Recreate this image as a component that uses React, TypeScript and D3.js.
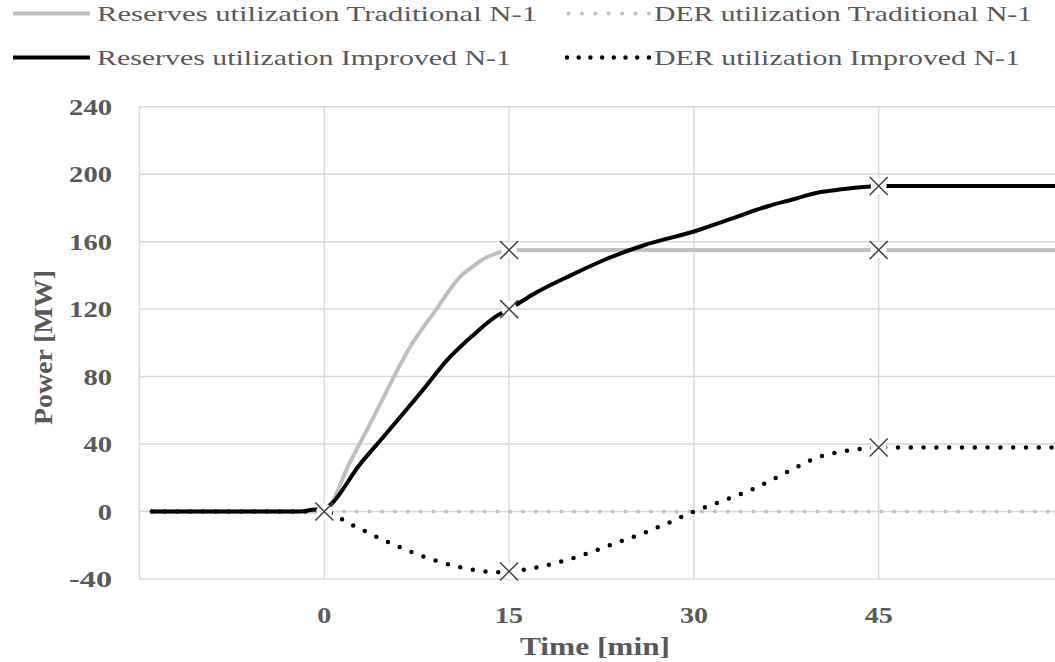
import React from 'react';
import * as d3 from 'd3';

// values (time in minutes, power in MW)
const reservesTradTime = [-14, -1, 0, 2, 4, 7, 9, 11, 12, 13, 14, 15, 30, 45, 60];
const reservesTradValue = [0, 0, 0, 28, 56, 98, 119, 139, 145, 150, 153, 155, 155, 155, 155];

const reservesImpTime = [-14, -2, -1, 0, 3, 5, 8, 10, 12, 14, 15, 17, 20, 23, 26, 30, 33, 36, 38, 40, 42, 44, 45, 60];
const reservesImpValue = [0, 0, 1, 2, 29, 46, 72, 90, 104, 116, 120, 129, 140, 150, 158, 166, 173.5, 181, 185, 189, 191, 192.5, 193, 193];

const derTradTime = [-14, 0, 15, 30, 45, 60];
const derTradValue = [0, 0, 0, 0, 0, 0];

const derImpTime = [-14, 0, 2, 5, 8, 11, 13, 14, 15, 17, 20, 23, 26, 28, 30, 32, 35, 38, 40, 42, 44, 45, 60];
const derImpValue = [0, 0, -7, -17.5, -26.5, -33, -35.5, -36, -35.5, -33.5, -28, -20.5, -12.5, -6.5, 0, 5.5, 14, 25, 32, 35.5, 37.5, 38, 38];

const xTicks = [0, 15, 30, 45];
const yTicks = [-40, 0, 40, 80, 120, 160, 200, 240];

const FONT = "'Liberation Serif', Tinos, 'Times New Roman', Times, serif";
const LABEL = '#595959';
const GRID = '#d9d9d9';

const x = d3.scaleLinear().domain([-15, 60]).range([139.5, 1063.5]);
const y = d3.scaleLinear().domain([-40, 240]).range([579, 106.7]);

const zip = (t: number[], v: number[]) => t.map((d, i) => [d, v[i]] as [number, number]);

const line = d3.line<[number, number]>()
  .x(d => x(d[0]))
  .y(d => y(d[1]))
  .curve(d3.curveMonotoneX);

const series = [
  { name: 'derTrad', pts: zip(derTradTime, derTradValue), stroke: '#c0c0c0', width: 4, dash: '0 12.8', marks: [] as number[] },
  { name: 'resTrad', pts: zip(reservesTradTime, reservesTradValue), stroke: '#bfbfbf', width: 4, dash: null, marks: [15, 45] },
  { name: 'resImp', pts: zip(reservesImpTime, reservesImpValue), stroke: '#000', width: 4, dash: null, marks: [15, 45] },
  { name: 'derImp', pts: zip(derImpTime, derImpValue), stroke: '#000', width: 4.5, dash: '0 12.8', marks: [0, 15, 45] },
];

const T = ({ x, y, len, size, bold, anchor, children, rotate }: any) => (
  <text
    x={x}
    y={y}
    style={{ fontFamily: FONT }}
    fontSize={size}
    fontWeight={bold ? 'bold' : 'normal'}
    fill={LABEL}
    textAnchor={anchor || 'start'}
    textLength={len}
    lengthAdjust="spacingAndGlyphs"
    transform={rotate ? `rotate(-90 ${x} ${y})` : undefined}
  >
    {children}
  </text>
);

const Cross = ({ cx, cy }: { cx: number; cy: number }) => (
  <g>
    <circle cx={cx} cy={cy} r={8} fill="#fff" />
    <path d={`M${cx - 9},${cy - 9}L${cx + 9},${cy + 9}M${cx - 9},${cy + 9}L${cx + 9},${cy - 9}`} stroke="#404040" strokeWidth={1.5} />
  </g>
);

export default function App() {
  const [x0, x1] = x.range();
  const [y0, y1] = y.range();
  return (
    <svg width={1055} height={662} style={{ position: 'absolute', left: 0, top: 0, background: '#fff' }}>
      {/* legend */}
      <line x1={13} x2={90} y1={13.5} y2={13.5} stroke="#bfbfbf" strokeWidth={4} />
      <T x={97} y={21} len={440} size={21}>Reserves utilization Traditional N-1</T>
      <line x1={13} x2={90} y1={57.5} y2={57.5} stroke="#000" strokeWidth={4} />
      <T x={97} y={65} len={414} size={21}>Reserves utilization Improved N-1</T>
      <line x1={568.5} x2={649} y1={13.5} y2={13.5} stroke="#c0c0c0" strokeWidth={4} strokeLinecap="round" strokeDasharray="0 13.4" />
      <T x={654} y={21} len={378} size={21}>DER utilization Traditional N-1</T>
      <line x1={567} x2={649} y1={57.5} y2={57.5} stroke="#000" strokeWidth={4.5} strokeLinecap="round" strokeDasharray="0 11.7" />
      <T x={654} y={65} len={366} size={21}>DER utilization Improved N-1</T>

      {/* grid */}
      {yTicks.map(t => (
        <line key={'gy' + t} x1={x0} x2={x1} y1={y(t)} y2={y(t)} stroke={GRID} strokeWidth={1.5} />
      ))}
      {xTicks.map(t => (
        <line key={'gx' + t} x1={x(t)} x2={x(t)} y1={y0} y2={y1} stroke={GRID} strokeWidth={1.5} />
      ))}
      <line x1={x0} x2={x0} y1={y0} y2={y1} stroke={GRID} strokeWidth={1.5} />

      {/* series */}
      {series.map(s => (
        <path
          key={s.name}
          d={line(s.pts) || ''}
          fill="none"
          stroke={s.stroke}
          strokeWidth={s.width}
          strokeLinecap="round"
          strokeLinejoin="round"
          strokeDasharray={s.dash || undefined}
        />
      ))}
      {series.map(s =>
        s.marks.map(m => {
          const p = s.pts.find(d => d[0] === m)!;
          return <Cross key={s.name + m} cx={x(p[0])} cy={y(p[1])} />;
        })
      )}

      {/* axes labels */}
      {yTicks.map(t => (
        <T key={'ly' + t} x={112} y={y(t) + 8} len={String(t).length * 14.3} size={23} bold anchor="end">{t}</T>
      ))}
      {xTicks.map(t => (
        <T key={'lx' + t} x={x(t)} y={623} len={String(t).length * 14} size={23} bold anchor="middle">{t}</T>
      ))}
      <T x={595} y={655} len={150} size={25} bold anchor="middle">Time [min]</T>
      <T x={52} y={347.5} len={155} size={26} bold anchor="middle" rotate>Power [MW]</T>
    </svg>
  );
}
